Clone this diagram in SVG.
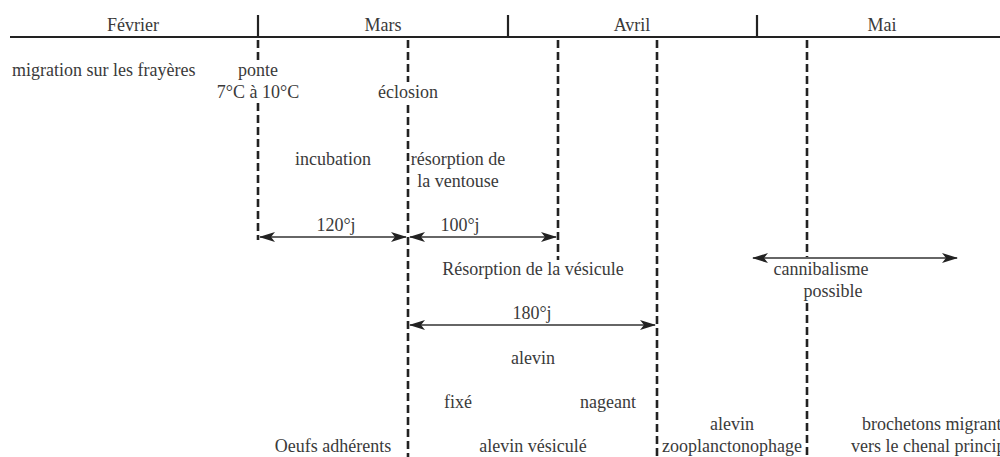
<svg xmlns="http://www.w3.org/2000/svg" width="1000" height="457" viewBox="0 0 1000 457">
<defs>
<style>
text{font-family:"Liberation Serif","Times New Roman",serif;font-size:18px;fill:#3a3a3a}
.m{text-anchor:middle}
.axis{stroke:#222;stroke-width:2.2;fill:none}
.dash{stroke:#222;stroke-width:2.6;stroke-dasharray:8 4;fill:none}
.arr{stroke:#333;stroke-width:1.6;fill:none;marker-start:url(#ah);marker-end:url(#ah)}
</style>
<marker id="ah" viewBox="0 0 16 10" refX="15" refY="5" markerWidth="16" markerHeight="10" markerUnits="userSpaceOnUse" orient="auto-start-reverse">
<path d="M0,0 L16,5 L0,10 L4,5 z" fill="#222"/>
</marker>
</defs>
<rect width="1000" height="457" fill="#fff"/>
<g id="axis">
<line class="axis" x1="10" y1="37" x2="1000" y2="37"/>
<line class="axis" x1="258" y1="15" x2="258" y2="37"/>
<line class="axis" x1="508" y1="15" x2="508" y2="37"/>
<line class="axis" x1="757" y1="15" x2="757" y2="37"/>
<text class="m" x="133" y="31">Février</text>
<text class="m" x="383" y="31">Mars</text>
<text class="m" x="632" y="31">Avril</text>
<text class="m" x="882" y="31">Mai</text>
</g>
<g id="connectors">
<path class="dash" d="M258,40 V62 M258,103 V240"/>
<path class="dash" d="M408,40 V82 M408,105 V457"/>
<path class="dash" d="M558,40 V260"/>
<path class="dash" d="M657,40 V457"/>
<path class="dash" d="M807,40 V257 M807,303 V457"/>
<line class="arr" x1="260" y1="237" x2="406" y2="237"/>
<line class="arr" x1="410" y1="237" x2="556" y2="237"/>
<line class="arr" x1="410" y1="325" x2="655" y2="325"/>
<line class="arr" x1="753" y1="258" x2="957" y2="258"/>
</g>
<g id="migration"><text x="12" y="76">migration sur les frayères</text></g>
<g id="ponte"><text class="m" x="258" y="76">ponte</text><text class="m" x="258" y="98">7°C à 10°C</text></g>
<g id="eclosion"><text class="m" x="408" y="98">éclosion</text></g>
<g id="incubation"><text class="m" x="333" y="165">incubation</text></g>
<g id="ventouse"><text class="m" x="458" y="165">résorption de</text><text class="m" x="458" y="187">la ventouse</text></g>
<g id="d120"><text class="m" x="336" y="231">120°j</text></g>
<g id="d100"><text class="m" x="460" y="231">100°j</text></g>
<g id="vesicule"><text class="m" x="533" y="275">Résorption de la vésicule</text></g>
<g id="d180"><text class="m" x="532" y="319">180°j</text></g>
<g id="cannibalisme"><text class="m" x="821" y="275">cannibalisme</text><text class="m" x="833" y="297">possible</text></g>
<g id="alevin"><text class="m" x="533" y="364">alevin</text></g>
<g id="fixe"><text class="m" x="458" y="408">fixé</text></g>
<g id="nageant"><text class="m" x="608" y="408">nageant</text></g>
<g id="oeufs"><text class="m" x="333" y="452">Oeufs adhérents</text></g>
<g id="vesicule2"><text class="m" x="533" y="452">alevin vésiculé</text></g>
<g id="zoo"><text class="m" x="732" y="430">alevin</text><text class="m" x="732" y="452">zooplanctonophage</text></g>
<g id="brochetons"><text x="862" y="430">brochetons migrants</text><text x="851" y="452">vers le chenal principal</text></g>
</svg>
